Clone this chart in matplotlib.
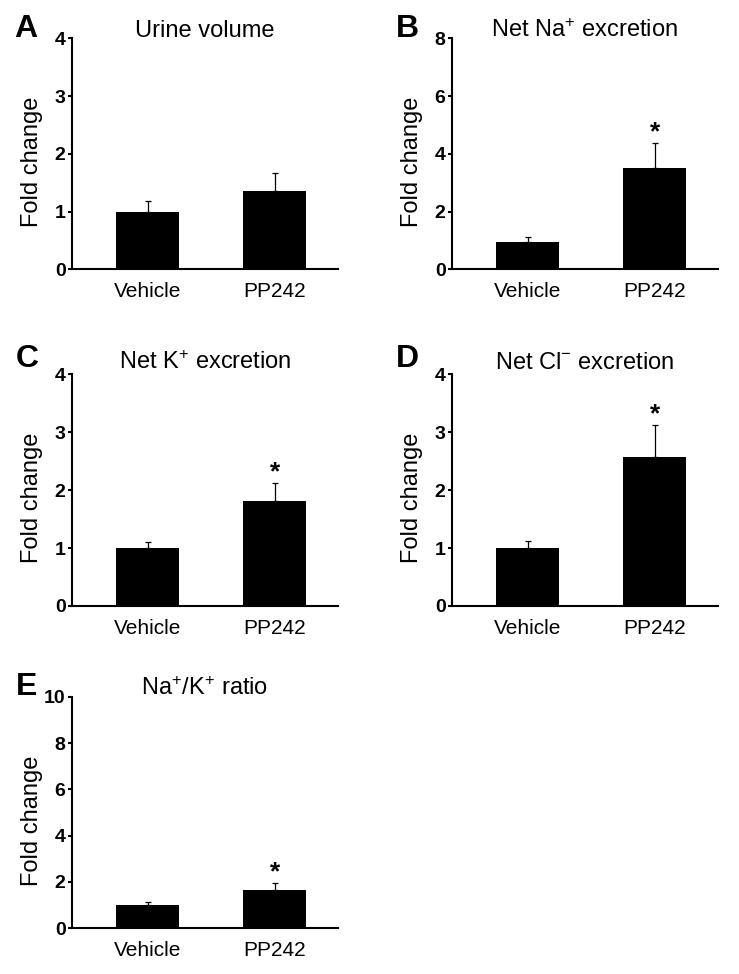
import numpy as np
import matplotlib
matplotlib.use('Agg')
import matplotlib.pyplot as plt

plt.rcParams['font.family'] = ['Liberation Sans', 'DejaVu Sans']
plt.rcParams['mathtext.fontset'] = 'custom'
plt.rcParams['mathtext.rm'] = 'Liberation Sans'
plt.rcParams['mathtext.it'] = 'Liberation Sans'
plt.rcParams['mathtext.bf'] = 'Liberation Sans:bold'

groups = ['Vehicle', 'PP242']

letters = ['A', 'B', 'C', 'D', 'E']
titles = ['Urine volume', 'Net Na$^{+}$ excretion', 'Net K$^{+}$ excretion',
          'Net Cl$^{-}$ excretion', 'Na$^{+}$/K$^{+}$ ratio']

urine_mean = [1.0, 1.36]
urine_sem = [0.18, 0.31]
na_mean = [0.96, 3.5]
na_sem = [0.15, 0.88]
k_mean = [1.0, 1.82]
k_sem = [0.11, 0.31]
cl_mean = [1.0, 2.57]
cl_sem = [0.12, 0.56]
ratio_mean = [1.0, 1.65]
ratio_sem = [0.13, 0.29]

means = [urine_mean, na_mean, k_mean, cl_mean, ratio_mean]
sems = [urine_sem, na_sem, k_sem, cl_sem, ratio_sem]
significant = [[False, False], [False, True], [False, True], [False, True], [False, True]]

y_max = [4, 8, 4, 4, 10]
y_step = [1, 2, 1, 1, 2]

W, H = 739, 974
fig = plt.figure(figsize=(W / 100, H / 100), dpi=100)

# axes boxes in pixels: left, top, right, bottom
boxes = [(71.7, 38.3, 338, 269.3), (451.7, 38.3, 718, 269.3),
         (71.7, 374.3, 338, 606), (451.7, 374.3, 718, 606),
         (71.7, 696.7, 338, 928.3)]
letter_pos = [(14, 37), (396, 37), (16, 367), (396, 367), (16, 695)]
title_y = [1.0043, 1.0043, 1.0216, 1.0216, 1.0073]

for i in range(5):
    l, t, r, b = boxes[i]
    ax = fig.add_axes([l / W, 1 - b / H, (r - l) / W, (b - t) / H])
    x = np.arange(len(groups))
    ax.bar(x, means[i], width=0.5, color='black')
    ax.errorbar(x, means[i], yerr=[np.zeros(len(groups)), sems[i]], fmt='none',
                ecolor='black', elinewidth=0.9, capsize=2.3, capthick=0.9)
    for j in range(len(groups)):
        if significant[i][j]:
            ax.annotate('*', xy=(x[j], means[i][j] + sems[i][j]), xytext=(0, -1),
                        textcoords='offset points', ha='center', va='bottom',
                        fontsize=19, fontweight='bold')
    ax.set_xlim(-0.6, 1.5)
    ax.set_ylim(0, y_max[i])
    ax.set_yticks(np.arange(0, y_max[i] + 0.01, y_step[i]))
    ax.set_xticks(x)
    ax.set_xticklabels(groups, fontsize=15)
    ax.set_yticklabels([str(v) for v in range(0, y_max[i] + 1, y_step[i])],
                       family=['Liberation Sans Narrow', 'Liberation Sans'],
                       fontweight='bold', fontsize=14)
    ax.tick_params(axis='x', length=0, pad=9.5)
    ax.tick_params(axis='y', length=2.6, width=1.5, pad=1.8, direction='out')
    ax.spines['top'].set_visible(False)
    ax.spines['right'].set_visible(False)
    ax.spines['left'].set_linewidth(1.5)
    ax.spines['bottom'].set_linewidth(1.5)
    ax.set_ylabel('Fold change', fontsize=17)
    ax.yaxis.set_label_coords(-0.108, 0.465)
    ax.text(0.5, title_y[i], titles[i], transform=ax.transAxes, fontsize=17,
            ha='center', va='baseline')
    lx, ly = letter_pos[i]
    fig.text(lx / W, 1 - ly / H, letters[i], fontsize=23, fontweight='heavy',
             ha='left', va='baseline')

fig.savefig('out.png', dpi=100)
